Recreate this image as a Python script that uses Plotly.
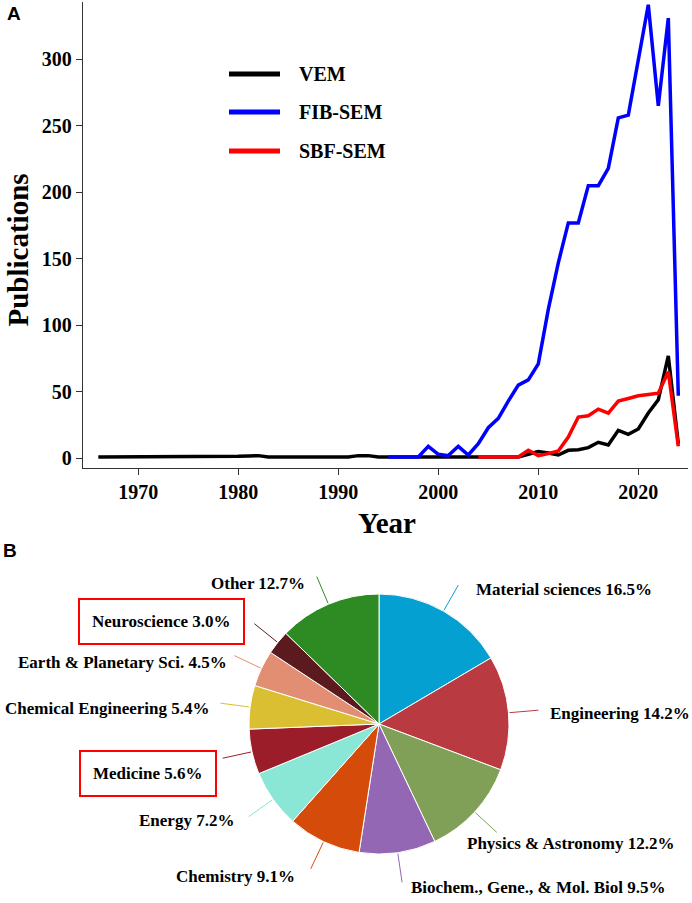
import math
import plotly.graph_objects as go

# ---------------- data ----------------
vem_years = list(range(1966, 2025))
vem_values = [1, 1, 1, 1, 1, 1, 1, 1, 1, 1, 1, 1, 1, 1,          # 1966-1979
              1.5, 1.8, 2, 1,                                    # 1980-1983
              1, 1, 1, 1, 1, 1, 1, 1,                            # 1984-1991
              2, 2, 1,                                           # 1992-1994
              1, 1, 1, 1, 1, 1, 1, 1, 1, 1, 1, 1, 1, 1,          # 1995-2008
              3, 5, 4, 2.5, 6, 6.5, 8, 12, 10, 21, 18, 22, 34, 44, 77, 11]  # 2009-2024

fib_years = list(range(1995, 2025))
fib_values = [1, 1, 1, 1, 9, 3, 2, 9, 2.5, 11, 23, 30, 43, 55, 59, 71, 112, 147,
              177, 177, 205, 205, 218, 256, 258, 299, 341, 265, 331, 47]

sbf_years = list(range(2004, 2025))
sbf_values = [1, 1, 1, 1, 1, 6, 2, 3.5, 5.5, 16, 31, 32, 37, 34, 43, 45, 47, 48,
              49, 65, 9]

series_names = ["VEM", "FIB-SEM", "SBF-SEM"]
series_colors = ["#000000", "#0000FF", "#FF0000"]

x_ticks = [1970, 1980, 1990, 2000, 2010, 2020]
y_ticks = [0, 50, 100, 150, 200, 250, 300]

pie_categories = ["Material sciences", "Engineering", "Physics & Astronomy",
                  "Biochem., Gene., & Mol. Biol", "Chemistry", "Energy", "Medicine",
                  "Chemical Engineering", "Earth & Planetary Sci.", "Neuroscience", "Other"]
pie_values = [16.5, 14.2, 12.2, 9.5, 9.1, 7.2, 5.6, 5.4, 4.5, 3.0, 12.7]
pie_colors = ["#05A0D2", "#B93B41", "#7FA056", "#9467B4", "#D54B0A", "#8AE6D5",
              "#9B1D2A", "#DABF32", "#E18E72", "#5B1A1E", "#2E8B23"]
boxed_categories = ["Neuroscience", "Medicine"]

# ---------------- layout constants ----------------
W, H = 692, 903
SERIF = "Liberation Serif"
SANS = "Liberation Sans"


def px(x):
    return x / W


def py(y):
    return 1 - y / H


# label anchor positions (pixels): (x, y, xanchor)
label_pos = {
    "Material sciences": (474, 589, "left"),
    "Engineering": (548, 713, "left"),
    "Physics & Astronomy": (465, 843, "left"),
    "Biochem., Gene., & Mol. Biol": (409, 887, "left"),
    "Chemistry": (297, 876, "right"),
    "Energy": (236, 820, "right"),
    "Medicine": (148, 773, "center"),
    "Chemical Engineering": (211, 708, "right"),
    "Earth & Planetary Sci.": (229, 662, "right"),
    "Neuroscience": (161, 621, "center"),
    "Other": (307, 583, "right"),
}

pie_cx, pie_cy, pie_r = 379, 724, 130

fig = go.Figure()

for name, color, xs, ys in zip(series_names, series_colors,
                               [vem_years, fib_years, sbf_years],
                               [vem_values, fib_values, sbf_values]):
    fig.add_trace(go.Scatter(x=xs, y=ys, mode="lines", name=name,
                             line=dict(color=color, width=3.5),
                             showlegend=False, xaxis="x", yaxis="y"))

fig.add_trace(go.Pie(
    values=pie_values, labels=pie_categories, sort=False, direction="clockwise",
    rotation=0, textinfo="none", showlegend=False,
    marker=dict(colors=pie_colors, line=dict(color="white", width=1)),
    domain=dict(x=[px(pie_cx - pie_r), px(pie_cx + pie_r)],
                y=[py(pie_cy + pie_r), py(pie_cy - pie_r)]),
))

annotations = []
shapes = []


def label(text, x, y, size, family=SERIF, xanchor="center", **kw):
    d = dict(text=text, x=px(x), y=py(y), xref="paper", yref="paper",
             xanchor=xanchor, yanchor="middle", showarrow=False,
             font=dict(family=family, size=size, color="black", weight="bold"))
    d.update(kw)
    return d


# panel letters
annotations.append(label("A", 13.5, 13.5, 19, family=SANS))
annotations.append(label("B", 10, 550, 19, family=SANS))

# axis titles
annotations.append(label("Publications", 17.5, 250, 29, textangle=-90))
annotations.append(label("Year", 387, 523, 29))

# manual legend
legend_y = [74, 112, 151]
for name, color, ly in zip(series_names, series_colors, legend_y):
    shapes.append(dict(type="line", xref="paper", yref="paper",
                       x0=px(229), x1=px(280), y0=py(ly), y1=py(ly),
                       line=dict(color=color, width=5)))
    annotations.append(label(name, 297, ly, 20, xanchor="left"))

# pie leader lines and labels
cum = 0.0
total = sum(pie_values)
for cat, val, col in zip(pie_categories, pie_values, pie_colors):
    mid = (cum + val / 2) / total * 2 * math.pi
    cum += val
    x0 = pie_cx + (pie_r + 1) * math.sin(mid)
    y0 = pie_cy - (pie_r + 1) * math.cos(mid)
    x1 = pie_cx + (pie_r + 30) * math.sin(mid)
    y1 = pie_cy - (pie_r + 30) * math.cos(mid)
    shapes.append(dict(type="line", xref="paper", yref="paper",
                       x0=px(x0), y0=py(y0), x1=px(x1), y1=py(y1),
                       line=dict(color=col, width=1)))
    lx, ly, anchor = label_pos[cat]
    extra = {}
    if cat in boxed_categories:
        extra = dict(bordercolor="#FF0000", borderwidth=2, borderpad=12)
    annotations.append(label(f"{cat} {val:.1f}%", lx, ly, 17, xanchor=anchor, **extra))

axis_common = dict(showline=True, linecolor="#333333", linewidth=1.3, ticks="outside",
                   ticklen=6, tickwidth=1.2, tickcolor="#333333", showgrid=False,
                   zeroline=False, automargin=False,
                   tickfont=dict(family=SERIF, size=20, color="black", weight="bold"))

fig.update_layout(
    width=W, height=H, autosize=False,
    margin=dict(l=0, r=0, t=0, b=0),
    paper_bgcolor="white", plot_bgcolor="white",
    xaxis=dict(domain=[px(83), px(688)], range=[1964.47, 2024.97], tickvals=x_ticks,
               anchor="y", **axis_common),
    yaxis=dict(domain=[py(468), py(2)], range=[-7.3, 343.1], tickvals=y_ticks,
               anchor="x", **axis_common),
    annotations=annotations,
    shapes=shapes,
    showlegend=False,
)

fig.write_html("out.html", config={"displayModeBar": False},
               post_script="document.body.style.margin='0';")
